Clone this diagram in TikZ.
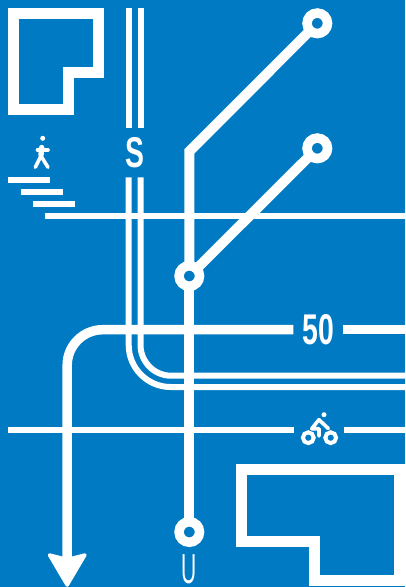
\documentclass[tikz,border=0pt]{standalone}
\usepackage{fontspec}
\setmainfont{Liberation Sans}
\newfontfamily\signbold[FakeStretch=0.66]{Liberation Sans Bold}
\newfontfamily\signthin[FakeStretch=0.5]{Liberation Sans}
\definecolor{signblue}{RGB}{0,122,194}
\tikzset{
  road/.style={draw=white,line width=9.5pt},
  metro/.style={draw=white,line width=10pt},
  thinline/.style={draw=white,line width=6pt},
  building/.style={draw=white,line width=11pt,line join=miter},
  station/.style={circle,draw=white,fill=signblue,line width=9.5pt,minimum size=20.5pt,inner sep=0pt,outer sep=0pt},
  signtext/.style={text=white,inner sep=0pt,font=\signbold\fontsize{43}{43}\selectfont},
  signthintext/.style={text=white,inner sep=0pt,font=\signthin\fontsize{42}{42}\selectfont},
  icon/.style={draw=white,line cap=round,line join=round},
}
\begin{document}
\begin{tikzpicture}[x=1pt,y=-1pt]
\fill[signblue] (0,0) rectangle (405,587);
\useasboundingbox (0,0) rectangle (405,587);

% buildings
\draw[building] (13.8,13.8) -- (98.2,13.8) -- (98.2,72.2) -- (68,72.2) -- (68,109.8) -- (13.8,109.8) -- cycle;
\draw[building] (241.2,469.5) -- (399,469.5) -- (399,580.5) -- (314.8,580.5) -- (314.8,541.7) -- (241.2,541.7) -- cycle;

% text and stations
\node[signtext] (tS) at (134.7,153) {S};
\node[signtext] (t50) at (318.3,330) {50};
\node[signthintext] (tU) at (189.5,569.5) {U};
\node[station] (st1) at (317.3,23.3) {};
\node[station] (st2) at (317.3,148.3) {};
\node[station] (st3) at (189.3,276) {};
\node[station] (st4) at (189.3,532) {};

% free ends
\coordinate (bend) at (189.3,151.5);
\coordinate (sAtop) at (128.7,8);
\coordinate (sAend) at (128.7,128);
\coordinate (sBtop) at (140.5,8);
\coordinate (sBend) at (140.5,128);
\coordinate (sAres) at (128.7,177.3);
\coordinate (sBres) at (140.5,177.3);
\coordinate (sAbend) at (128.7,345);
\coordinate (sBbend) at (140.5,345);
\coordinate (sAout) at (405,387);
\coordinate (sBout) at (405,375.7);
\coordinate (walkW) at (44.7,215.7);
\coordinate (walkE) at (405,215.7);
\coordinate (roadStart) at (293.3,329.7);
\coordinate (roadEnd) at (405,329.7);
\coordinate (roadRes) at (343.3,329.7);
\coordinate (roadDown) at (67.2,560);
\coordinate (bikeW) at (8,429.5);
\coordinate (bikeA) at (294,429.5);
\coordinate (bikeB) at (344,429.5);
\coordinate (bikeE) at (405,429.5);

% S lines
\draw[thinline] (sAtop) -- (sAend);
\draw[thinline] (sBtop) -- (sBend);
\draw[thinline] (sAres) -- (sAbend) .. controls (128.7,368.2) and (147.5,387) .. (170.7,387) -- (sAout);
\draw[thinline] (sBres) -- (sBbend) .. controls (140.5,361.8) and (154.2,375.7) .. (171,375.7) -- (sBout);

% walking steps
\draw[thinline] (walkW) -- (walkE);
\draw[thinline] (8.3,180.2) -- (50,180.2);
\draw[thinline] (21,191.8) -- (62.7,191.8);
\draw[thinline] (32.7,203.7) -- (74.5,203.7);

% bike path
\draw[thinline] (bikeW) -- (bikeA);
\draw[thinline] (bikeB) -- (bikeE);

% road
\draw[road] (roadStart) -- (102.7,329.7) .. controls (83.1,329.7) and (67.2,345.6) .. (67.2,365.2) -- (roadDown);
\draw[road] (roadRes) -- (roadEnd);
\fill[white,draw=white,line width=3.5pt,line join=round] (49.5,555) -- (67.2,559.5) -- (84.9,555) -- (67.2,585) -- cycle;

% metro
\draw[metro,line join=miter] (st1) -- (bend) -- (st3);
\draw[metro] (st2) -- (st3);
\draw[metro] (st3) -- (st4);

% walker
\fill[white] (42.7,138.3) circle (2.5);
\draw[icon,line width=3.6pt] (37.5,150) -- (48,150);
\draw[icon,line width=5.4pt] (41.7,147.5) -- (41,155);
\draw[icon,line width=3.6pt] (41,156) -- (35.3,167.3);
\draw[icon,line width=3.6pt] (41,156) -- (48,167.3);

% cyclist
\draw[white,line width=4pt] (308.3,437.7) circle (5.4);
\draw[white,line width=4pt] (330.7,437.7) circle (5.4);
\fill[white] (324,414.7) circle (2.5);
\draw[icon,line width=3.6pt] (328.3,428.5) -- (319,419.7) -- (311.7,428.7) -- (319,428.7) -- (319,436);
\end{tikzpicture}
\end{document}
